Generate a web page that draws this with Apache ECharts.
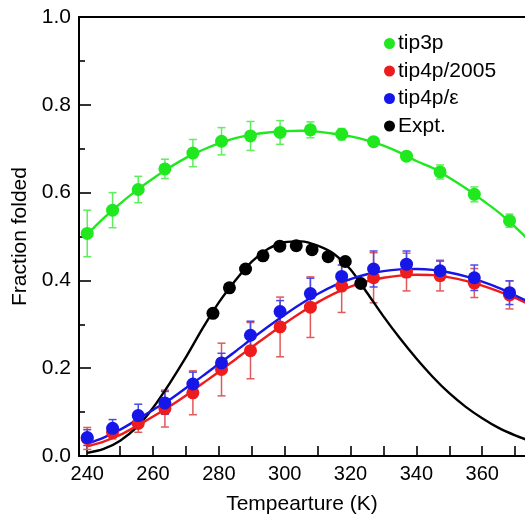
<!DOCTYPE html>
<html><head><meta charset="utf-8">
<script src="https://cdn.jsdelivr.net/npm/echarts@6/dist/echarts.min.js"></script>
<style>html,body{margin:0;padding:0;background:#fff}#c{width:525px;height:520px}</style>
</head><body><div id="c"></div>
<script>
// Simulation temperatures (K)
const temps = [240, 247.7, 255.5, 263.6, 272.1, 280.8, 289.6, 298.6, 307.8, 317.3, 327, 337, 347.2, 357.6, 368.3];
const tip3pMean = [0.507, 0.560, 0.607, 0.654, 0.690, 0.717, 0.729, 0.737, 0.743, 0.733, 0.716, 0.683, 0.647, 0.596, 0.536];
const tip3pErr  = [0.053, 0.040, 0.030, 0.022, 0.031, 0.031, 0.033, 0.027, 0.018, 0.013, 0.008, 0.005, 0.016, 0.017, 0.015];
const tip4p2005Mean = [0.040, 0.054, 0.074, 0.108, 0.144, 0.197, 0.240, 0.294, 0.339, 0.387, 0.406, 0.419, 0.411, 0.394, 0.367];
const tip4p2005Err  = [0.025, 0.015, 0.020, 0.042, 0.050, 0.060, 0.064, 0.068, 0.069, 0.060, 0.057, 0.043, 0.035, 0.033, 0.032];
const tip4pEpsMean = [0.042, 0.063, 0.092, 0.121, 0.164, 0.212, 0.275, 0.329, 0.370, 0.409, 0.426, 0.437, 0.422, 0.406, 0.372];
const tip4pEpsErr  = [0.018, 0.020, 0.026, 0.026, 0.027, 0.022, 0.032, 0.025, 0.035, 0.026, 0.041, 0.030, 0.022, 0.029, 0.027];
// Experimental data
const exptTemps = [278.2, 283.2, 288.1, 293.4, 298.5, 303.5, 308.3, 313.2, 318.4, 323.1];
const exptVals  = [0.325, 0.383, 0.426, 0.456, 0.478, 0.479, 0.470, 0.454, 0.443, 0.393];
// Fitted curves
const fitTemps = [240,245,250,255,260,265,270,275,280,285,290,295,300,305,310,315,320,325,330,335,340,345,350,355,360,365,370,375];
const tip3pFit = [0.505,0.542,0.575,0.605,0.632,0.657,0.679,0.697,0.712,0.724,0.732,0.737,0.740,0.741,0.739,0.734,0.728,0.719,0.707,0.691,0.672,0.656,0.634,0.610,0.583,0.555,0.522,0.485];
const tip4p2005Fit = [0.022,0.033,0.048,0.068,0.090,0.113,0.138,0.165,0.192,0.220,0.248,0.275,0.302,0.327,0.350,0.370,0.386,0.398,0.406,0.411,0.413,0.412,0.407,0.399,0.388,0.375,0.360,0.343];
const tip4pEpsFit = [0.028,0.042,0.060,0.082,0.105,0.128,0.155,0.182,0.210,0.238,0.267,0.295,0.322,0.347,0.369,0.388,0.403,0.414,0.421,0.425,0.426,0.424,0.418,0.409,0.397,0.383,0.366,0.348];
const exptFit = [0.007,0.016,0.035,0.065,0.110,0.165,0.225,0.290,0.350,0.400,0.443,0.472,0.487,0.489,0.479,0.460,0.425,0.372,0.318,0.268,0.222,0.180,0.143,0.112,0.086,0.064,0.047,0.033];
// Tick labels
const xTickLabels = [240, 260, 280, 300, 320, 340, 360];
const xTicks = [240, 250, 260, 270, 280, 290, 300, 310, 320, 330, 340, 350, 360, 370];

const GREEN = '#1fe81f', RED = '#ee1c1c', BLUE = '#1616e8', BLACK = '#000000';
const GREEN_E = '#5eee5e', RED_E = '#e05a5a', BLUE_E = '#4a4aee';

function zip(xs, ys) { return xs.map((x, i) => [x, ys[i]]); }
function errData(mean, err) { return temps.map((t, i) => [t, mean[i] - err[i], mean[i] + err[i]]); }
function errSeries(name, mean, err, color, z) {
  return {
    name: name, type: 'custom', z: z, clip: true, silent: true,
    data: errData(mean, err),
    encode: { x: 0, y: [1, 2] },
    renderItem: function (params, api) {
      const x = api.value(0);
      const p1 = api.coord([x, api.value(1)]);
      const p2 = api.coord([x, api.value(2)]);
      const w = 4;
      const st = { stroke: color, lineWidth: 1.5 };
      return { type: 'group', children: [
        { type: 'line', shape: { x1: p1[0], y1: p1[1], x2: p2[0], y2: p2[1] }, style: st },
        { type: 'line', shape: { x1: p1[0] - w, y1: p1[1], x2: p1[0] + w, y2: p1[1] }, style: st },
        { type: 'line', shape: { x1: p2[0] - w, y1: p2[1], x2: p2[0] + w, y2: p2[1] }, style: st }
      ]};
    }
  };
}
function fitSeries(name, ys, color, z) {
  return { name: name, type: 'line', z: z, data: zip(fitTemps, ys), smooth: 0.3, showSymbol: false,
    symbol: 'none', lineStyle: { color: color, width: 2.4 }, silent: true, clip: true };
}
function ptSeries(name, xs, ys, color, z) {
  return { name: name, type: 'scatter', z: z, data: zip(xs, ys), symbol: 'circle', symbolSize: 13,
    itemStyle: { color: color, opacity: 1 }, silent: true, clip: true };
}

const chart = echarts.init(document.getElementById('c'), null, { renderer: 'canvas' });
const font = 'Liberation Sans, Arial, Helvetica, sans-serif';
chart.setOption({
  animation: false,
  backgroundColor: '#fff',
  textStyle: { fontFamily: font },
  grid: { left: 79, right: 0, top: 17, bottom: 55, containLabel: false },
  legend: {
    data: ['tip3p', 'tip4p/2005', 'tip4p/ε', 'Expt.'],
    orient: 'vertical', left: 379, top: 28, itemGap: 6.5,
    icon: 'circle', itemWidth: 11, itemHeight: 11,
    textStyle: { fontSize: 21, color: '#000', fontFamily: font, padding: [0, 0, 0, -2] },
    selectedMode: false
  },
  xAxis: [{
    type: 'value', min: 237.5, max: 373, position: 'bottom',
    name: 'Tempearture (K)', nameLocation: 'middle', nameGap: 38,
    nameTextStyle: { fontSize: 21, color: '#000', fontFamily: font },
    axisLine: { show: true, onZero: false, lineStyle: { color: '#000', width: 2 } },
    axisTick: { show: true, inside: true, length: 10, lineStyle: { color: '#000', width: 1.6 }, customValues: xTicks },
    axisLabel: { show: true, fontSize: 20, color: '#000', margin: 8, fontFamily: font, customValues: xTickLabels },
    splitLine: { show: false }
  }, {
    type: 'value', min: 237.5, max: 373, position: 'top',
    axisLine: { show: true, onZero: false, lineStyle: { color: '#000', width: 2 } },
    axisTick: { show: false }, axisLabel: { show: false }, splitLine: { show: false }
  }],
  yAxis: {
    type: 'value', min: 0, max: 1, interval: 0.2,
    name: 'Fraction folded', nameLocation: 'middle', nameGap: 47,
    nameTextStyle: { fontSize: 21, color: '#000', fontFamily: font },
    axisLine: { show: true, onZero: false, lineStyle: { color: '#000', width: 2 } },
    axisTick: { show: true, inside: true, length: 12, lineStyle: { color: '#000', width: 1.6 } },
    minorTick: { show: true, splitNumber: 2, length: 6, lineStyle: { color: '#000', width: 1.6 } },
    axisLabel: { fontSize: 21, color: '#000', margin: 8, fontFamily: font, formatter: v => v.toFixed(1) },
    splitLine: { show: false }
  },
  series: [
    errSeries('tip3p err', tip3pMean, tip3pErr, GREEN_E, 2),
    errSeries('tip4p/2005 err', tip4p2005Mean, tip4p2005Err, RED_E, 2),
    errSeries('tip4p/ε err', tip4pEpsMean, tip4pEpsErr, BLUE_E, 2),
    fitSeries('tip3p fit', tip3pFit, GREEN, 3),
    fitSeries('Expt. fit', exptFit, BLACK, 3),
    fitSeries('tip4p/2005 fit', tip4p2005Fit, RED, 3),
    fitSeries('tip4p/ε fit', tip4pEpsFit, BLUE, 3),
    ptSeries('tip3p', temps, tip3pMean, GREEN, 4),
    ptSeries('Expt.', exptTemps, exptVals, BLACK, 4),
    ptSeries('tip4p/2005', temps, tip4p2005Mean, RED, 4),
    ptSeries('tip4p/ε', temps, tip4pEpsMean, BLUE, 5)
  ]
});
</script></body></html>
